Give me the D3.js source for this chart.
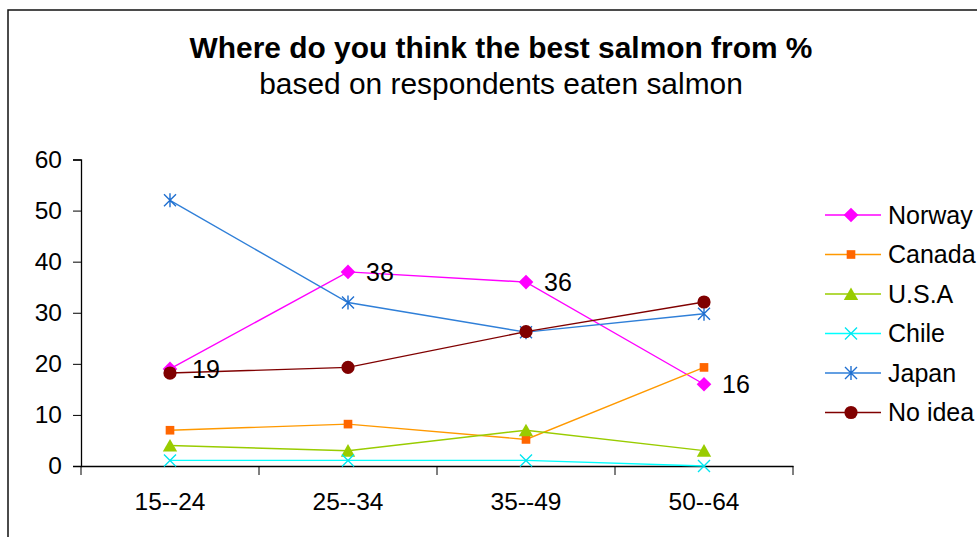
<!DOCTYPE html>
<html>
<head>
<meta charset="utf-8">
<script src="https://cdn.jsdelivr.net/npm/d3@7"></script>
<style>
  body { margin: 0; background: #fff; }
  svg { display: block; font-family: "Liberation Sans", Arial, sans-serif; }
</style>
</head>
<body>
<div class="line-chart__container"></div>
<script>
  const categories = ['15--24', '25--34', '35--49', '50--64'];
  const yTicks = [0, 10, 20, 30, 40, 50, 60];
  const seriesNames = ['Norway', 'Canada', 'U.S.A', 'Chile', 'Japan', 'No idea'];
  const norway = [19, 38, 36, 16];
  const canada = [7, 8.2, 5.2, 19.3];
  const usa = [4, 3, 7, 3];
  const chile = [1.1, 1.1, 1.1, 0];
  const japan = [52, 32, 26.2, 29.8];
  const noIdea = [18.2, 19.3, 26.3, 32.1];

  const styles = [
    {line: '#ff00ff', fill: '#ff00ff', marker: 'diamond'},
    {line: '#ff9900', fill: '#ff6600', marker: 'square'},
    {line: '#99cc00', fill: '#99cc00', marker: 'triangle'},
    {line: '#00ffff', fill: '#00e5f0', marker: 'cross'},
    {line: '#2f7fd8', fill: '#1f6fd0', marker: 'star'},
    {line: '#800000', fill: '#800000', marker: 'circle'}
  ];

  class SalmonChart {
    constructor(width, height) {
      this.width = width;
      this.height = height;
      this.left = 81;
      this.right = 793;
      this.top = 159.5;
      this.bottom = 466;
      this.fontSize = 24.5;
      this.series = [norway, canada, usa, chile, japan, noIdea].map((values, i) => {
        return {key: seriesNames[i], values: values, style: styles[i]};
      });
    }

    _addSvg() {
      this.svg = d3.select('.line-chart__container')
          .append('svg')
          .attr('width', this.width)
          .attr('height', this.height);
      // outer chart-area frame, cut off at right and bottom like the source
      this.svg.append('rect')
          .attr('x', 8)
          .attr('y', 10)
          .attr('width', this.width + 20)
          .attr('height', this.height + 20)
          .attr('fill', 'none')
          .attr('stroke', '#111')
          .attr('stroke-width', 1.5);
    }

    _addTitle() {
      this.svg.append('text')
          .attr('x', 501)
          .attr('y', 58)
          .attr('text-anchor', 'middle')
          .attr('font-size', 29.9)
          .attr('font-weight', 'bold')
          .text('Where do you think the best salmon from %');
      this.svg.append('text')
          .attr('x', 501)
          .attr('y', 94)
          .attr('text-anchor', 'middle')
          .attr('font-size', 29.9)
          .text('based on respondents eaten salmon');
    }

    _buildScales() {
      this.x = d3.scaleBand()
          .domain(categories)
          .range([this.left, this.right]);
      this.y = d3.scaleLinear()
          .domain([0, 60])
          .range([this.bottom, this.top]);
    }

    _buildAxes() {
      let yAxis = this.svg.append('g')
          .attr('transform', 'translate(' + this.left + ',0)')
          .call(d3.axisLeft(this.y).tickValues(yTicks).tickSize(8).tickPadding(11));
      yAxis.selectAll('text').attr('font-size', this.fontSize).attr('fill', '#000');

      let xAxis = this.svg.append('g')
          .attr('transform', 'translate(0,' + this.bottom + ')')
          .call(d3.axisBottom(this.x).tickSize(0).tickPadding(27));
      xAxis.selectAll('text').attr('font-size', this.fontSize).attr('fill', '#000');

      // category boundary ticks between bands
      let edges = categories.map(c => this.x(c)).concat([this.right]);
      xAxis.selectAll('.edge')
          .data(edges)
          .enter()
          .append('line')
          .attr('class', 'edge')
          .attr('x1', d => d)
          .attr('x2', d => d)
          .attr('y1', 0)
          .attr('y2', 9)
          .attr('stroke', '#000');

      this.svg.selectAll('.domain').attr('stroke', '#000').attr('stroke-width', 1.3);
      this.svg.selectAll('.tick line').attr('stroke', '#000');
    }

    _marker(sel, type, color, size) {
      if (type === 'circle') {
        sel.append('circle').attr('r', size * 0.55).attr('fill', color);
      } else if (type === 'square') {
        sel.append('rect')
            .attr('x', -size * 0.36).attr('y', -size * 0.36)
            .attr('width', size * 0.72).attr('height', size * 0.72)
            .attr('fill', color);
      } else if (type === 'diamond') {
        sel.append('path')
            .attr('d', d3.symbol().type(d3.symbolDiamond2).size(size * size * 0.95)())
            .attr('fill', color);
      } else if (type === 'triangle') {
        sel.append('path')
            .attr('d', 'M0,' + (-size * 0.55) + 'L' + (size * 0.6) + ',' + (size * 0.5) + 'L' + (-size * 0.6) + ',' + (size * 0.5) + 'Z')
            .attr('fill', color);
      } else {
        let h = size * 0.5;
        sel.append('path')
            .attr('d', 'M' + (-h) + ',' + (-h) + 'L' + h + ',' + h + 'M' + (-h) + ',' + h + 'L' + h + ',' + (-h) +
                (type === 'star' ? 'M0,' + (-h - 1) + 'L0,' + (h + 1) : ''))
            .attr('stroke', color)
            .attr('stroke-width', 1.4)
            .attr('fill', 'none');
      }
    }

    _buildLines() {
      let cx = c => this.x(c) + this.x.bandwidth() / 2;
      let line = d3.line()
          .x(d => cx(d.c))
          .y(d => this.y(d.v));

      this.series.forEach(s => {
        let pts = s.values.map((v, i) => ({c: categories[i], v: v}));
        this.svg.append('path')
            .datum(pts)
            .attr('d', line)
            .attr('fill', 'none')
            .attr('stroke', s.style.line)
            .attr('stroke-width', 1.4);
        let marks = this.svg.append('g')
            .selectAll('g')
            .data(pts)
            .enter()
            .append('g')
            .attr('transform', d => 'translate(' + cx(d.c) + ',' + this.y(d.v) + ')');
        this._marker(marks, s.style.marker, s.style.fill, 12);
      });

      // value labels for Norway
      this.svg.append('g')
          .selectAll('text')
          .data(norway)
          .enter()
          .append('text')
          .attr('x', (d, i) => cx(categories[i]) + (i === 0 ? 22 : 18))
          .attr('y', d => this.y(d))
          .attr('dy', '0.35em')
          .attr('font-size', 25)
          .text(d => d3.format('d')(d));
    }

    _buildLegend() {
      let legend = this.svg.append('g')
          .selectAll('g')
          .data(this.series)
          .enter()
          .append('g')
          .attr('transform', (d, i) => 'translate(0,' + (215 + i * 39.5) + ')');

      legend.append('line')
          .attr('x1', 825)
          .attr('x2', 881)
          .attr('stroke', d => d.style.line)
          .attr('stroke-width', 1.4);

      legend.each((d, i, nodes) => {
        let g = d3.select(nodes[i]).append('g').attr('transform', 'translate(851,0)');
        this._marker(g, d.style.marker, d.style.fill, 12);
      });

      legend.append('text')
          .attr('x', 888)
          .attr('dy', '0.35em')
          .attr('font-size', 25)
          .text(d => d.key);
    }

    draw() {
      this._addSvg();
      this._addTitle();
      this._buildScales();
      this._buildAxes();
      this._buildLines();
      this._buildLegend();
    }
  }

  let chart = new SalmonChart(977, 537);
  chart.draw();
</script>
</body>
</html>
